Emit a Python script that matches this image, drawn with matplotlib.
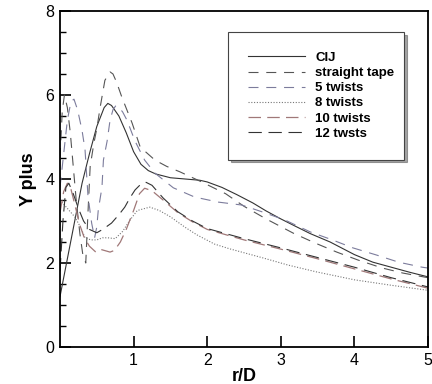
import numpy as np
import matplotlib.pyplot as plt
from matplotlib.ticker import MultipleLocator

plt.rcParams['font.family'] = ['Liberation Sans', 'DejaVu Sans']

# CIJ
x_cij = [0.0, 0.1, 0.2, 0.3, 0.4, 0.5, 0.6, 0.65, 0.7, 0.8, 0.9, 1.0, 1.1, 1.2, 1.3, 1.5,
         1.7, 1.9, 2.0, 2.2, 2.4, 2.62, 2.8, 3.0, 3.17, 3.4, 3.67, 4.0, 4.25, 4.5, 4.75, 5.0]
y_cij = [1.2, 2.1, 3.0, 3.9, 4.6, 5.25, 5.7, 5.8, 5.75, 5.5, 5.1, 4.65, 4.35, 4.2, 4.12, 4.03,
         4.0, 3.97, 3.93, 3.8, 3.63, 3.43, 3.24, 3.05, 2.9, 2.7, 2.5, 2.2, 2.02, 1.9, 1.78, 1.67]

# straight tape
x_st = [0.0, 0.03, 0.06, 0.1, 0.14, 0.18, 0.22, 0.27, 0.31, 0.35, 0.38, 0.41, 0.46, 0.5, 0.55,
        0.61, 0.68, 0.72, 0.77, 0.84, 0.98, 1.09, 1.29, 1.45, 1.63, 1.9, 2.25, 2.5, 2.8, 3.17,
        3.46, 3.76, 4.05, 4.38, 4.66, 5.0]
y_st = [4.5, 5.6, 6.0, 5.7, 5.1, 4.3, 3.5, 2.7, 2.2, 2.0, 3.2, 4.3, 4.85, 5.2, 5.75,
        6.35, 6.55, 6.5, 6.3, 5.95, 5.33, 4.76, 4.45, 4.3, 4.17, 3.95, 3.65, 3.35, 3.05, 2.71,
        2.48, 2.26, 2.07, 1.88, 1.76, 1.65]

# 5 twists
x_5 = [0.0, 0.05, 0.1, 0.15, 0.19, 0.24, 0.3, 0.34, 0.38, 0.43, 0.47, 0.5, 0.52, 0.57, 0.59,
       0.64, 0.68, 0.72, 0.76, 0.8, 0.85, 0.91, 1.02, 1.15, 1.29, 1.54, 1.83, 2.15, 2.47, 2.76,
       3.06, 3.4, 3.7, 3.98, 4.3, 4.6, 4.92, 5.0]
y_5 = [3.8, 4.6, 5.4, 5.85, 5.9, 5.64, 5.15, 4.7, 3.6, 2.95, 2.6, 2.86, 3.26, 3.8, 4.45,
       4.9, 5.4, 5.65, 5.75, 5.7, 5.6, 5.4, 4.9, 4.45, 4.14, 3.79, 3.57, 3.45, 3.38, 3.21,
       3.02, 2.74, 2.55, 2.36, 2.19, 2.02, 1.9, 1.88]

# 8 twists
x_8 = [0.0, 0.1, 0.2, 0.28, 0.34, 0.42, 0.5, 0.58, 0.65, 0.75, 0.85, 0.95, 1.05, 1.22, 1.35,
       1.5, 1.7, 1.86, 2.1, 2.3, 2.76, 3.1, 3.48, 4.0, 4.5, 5.0]
y_8 = [3.5, 3.3, 3.1, 2.85, 2.6, 2.55, 2.55, 2.6, 2.6, 2.58, 2.75, 3.02, 3.25, 3.33, 3.25,
       3.1, 2.85, 2.67, 2.45, 2.34, 2.12, 1.95, 1.79, 1.6, 1.47, 1.35]

# 10 twists
x_10 = [0.0, 0.05, 0.1, 0.15, 0.2, 0.27, 0.33, 0.4, 0.48, 0.54, 0.6, 0.68, 0.74, 0.82, 0.9,
        1.0, 1.08, 1.15, 1.25, 1.4, 1.6, 1.8, 2.0, 2.5, 3.0, 3.5, 4.0, 4.5, 5.0]
y_10 = [3.2, 3.7, 3.9, 3.75, 3.4, 2.9, 2.6, 2.4, 2.27, 2.33, 2.3, 2.26, 2.3, 2.5, 2.8,
        3.25, 3.65, 3.78, 3.72, 3.5, 3.2, 2.98, 2.8, 2.55, 2.33, 2.1, 1.86, 1.62, 1.4]

# 12 twists
x_12 = [0.0, 0.04, 0.08, 0.12, 0.18, 0.25, 0.32, 0.4, 0.5, 0.58, 0.7, 0.8, 0.88, 0.95, 1.02,
        1.1, 1.17, 1.25, 1.4, 1.6, 1.8, 2.0, 2.5, 3.0, 3.5, 4.0, 4.5, 5.0]
y_12 = [1.8, 3.0, 3.8, 3.9, 3.65, 3.3, 3.0, 2.8, 2.72, 2.8, 2.95, 3.15, 3.33, 3.55, 3.74,
        3.88, 3.92, 3.85, 3.55, 3.22, 3.0, 2.82, 2.58, 2.36, 2.13, 1.9, 1.65, 1.43]

fig = plt.figure(figsize=(4.32, 3.84), dpi=100)
ax = fig.add_axes([60/432, 1-347/384, 368/432, 336/384])

ax.plot(x_cij, y_cij, color='#333333', lw=0.8, label='CIJ')
ax.plot(x_st, y_st, color='#555555', lw=0.8, dashes=(9, 7), label='straight tape')
ax.plot(x_5, y_5, color='#7c7c9c', lw=0.8, dashes=(9, 7), label='5 twists')
ax.plot(x_8, y_8, color='#777777', lw=0.8, dashes=(1, 1.5), label='8 twists')
ax.plot(x_10, y_10, color='#a07878', lw=0.9, dashes=(10, 5), label='10 twists')
ax.plot(x_12, y_12, color='#333333', lw=0.8, dashes=(12, 6), label='12 twsts')

ax.set_xlim(0, 5)
ax.set_ylim(0, 8)
ax.set_xticks([1, 2, 3, 4, 5])
ax.set_yticks([0, 2, 4, 6, 8])
ax.yaxis.set_minor_locator(MultipleLocator(0.5))
ax.tick_params(direction='in', length=8, width=1.2, labelsize=11.5, pad=4)
ax.tick_params(which='minor', direction='in', length=4, width=1)
for s in ax.spines.values():
    s.set_linewidth(1.3)

ax.set_xlabel('r/D', fontsize=13, fontweight='bold', labelpad=0)
ax.set_ylabel('Y plus', fontsize=13, fontweight='bold', labelpad=6)

leg = ax.legend(loc='upper left', bbox_to_anchor=(0.457, 0.565, 0.478, 0.3725), mode='expand',
                prop={'weight': 'bold', 'size': 9.5}, frameon=True, fancybox=False,
                shadow=True, handlelength=4.3, handletextpad=0.8, labelspacing=0.22,
                borderpad=1.5, borderaxespad=0)
leg.get_frame().set_edgecolor('#444444')
leg.get_frame().set_linewidth(0.8)

plt.savefig('out.png', dpi=100)
